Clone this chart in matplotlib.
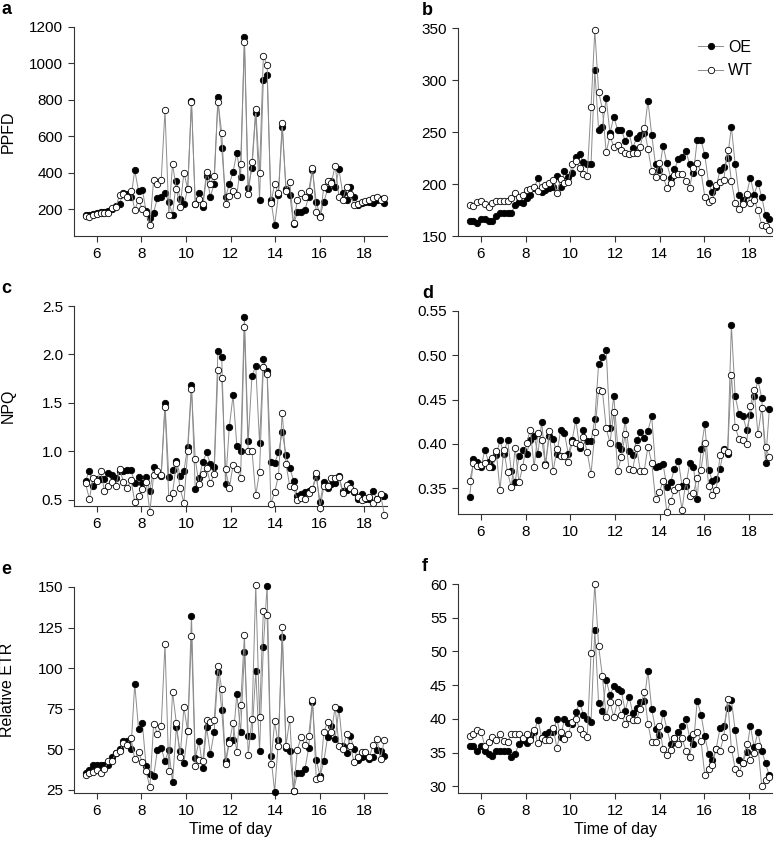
import numpy as np
from matplotlib import pyplot as plt

plt.rcParams['font.family'] = ['Liberation Sans', 'DejaVu Sans']
plt.rcParams['font.size'] = 11

# sampling times (h): 80 readings through the day
time = np.linspace(5.5, 18.9, 80)

# a - PPFD
a_oe = [165, 165, 175, 180, 182, 185, 188, 200, 215, 230, 290, 285, 264, 414, 298, 307, 190, 153, 180, 263,
        266, 286, 240, 168, 354, 255, 226, 310, 792, 227, 290, 213, 383, 268, 339, 814, 535, 264, 335, 405,
        509, 377, 1145, 317, 427, 728, 249, 908, 937, 249, 112, 277, 650, 310, 277, 116, 182, 182, 195, 268,
        414, 240, 162, 237, 310, 354, 323, 418, 286, 249, 323, 268, 224, 231, 237, 240, 231, 249, 255, 231]
a_wt = [160, 158, 170, 175, 178, 180, 180, 205, 212, 277, 280, 268, 300, 195, 250, 200, 177, 113, 362, 337,
        362, 743, 170, 446, 310, 213, 400, 310, 790, 230, 253, 227, 405, 339, 383, 790, 619, 227, 273, 300,
        277, 445, 1116, 280, 456, 747, 399, 1039, 993, 231, 339, 286, 674, 300, 350, 121, 249, 290, 268, 299,
        427, 182, 154, 323, 354, 345, 438, 268, 249, 323, 280, 224, 227, 237, 244, 249, 260, 264, 249, 258]

# b - PPFD
b_oe = [164.5, 164.5, 162.5, 166.7, 166.7, 164.5, 164.5, 169.3, 172.5, 172.5, 172.5, 172.5, 179.6, 182.8, 182, 187,
        189.9, 195.7, 206, 192.4, 194.7, 195.7, 197.3, 207.6, 197.3, 212.4, 207, 210.8, 226.2, 228.8, 220.7, 218.8,
        218.8, 309.2, 252, 255.1, 282.5, 248.7, 264.8, 252, 252, 241.6, 248.7, 234.9, 243.9, 247.1, 248.7, 280.2,
        247.1, 218.8, 213.3, 236.8, 219.8, 206, 214, 223.6, 226.2, 232, 218.8, 210.8, 242.3, 242.3, 227.7, 200.5,
        192.4, 197.3, 213.3, 215.9, 225.2, 255.1, 218.8, 189.9, 184.4, 189.9, 206, 189.9, 201.1, 187.6, 169.9, 166.7]
b_wt = [180.2, 178.6, 182.8, 184, 180.5, 178, 182, 184, 184, 184, 184, 186.7, 191.8, 187.6, 189.2, 194,
        195, 197.3, 193.4, 197.3, 199, 200.5, 203.7, 191, 204.7, 201, 202, 218.8, 222, 215, 209.5, 208,
        273.8, 347.7, 288.9, 271.9, 230.7, 246.1, 235.9, 237.5, 232.6, 229.4, 228.5, 229.4, 229.4, 235.9, 254.2, 233.9,
        212.7, 206.9, 220.4, 206.9, 196.3, 201.1, 208.5, 209.5, 209.5, 202.7, 196.6, 215, 219.8, 211.7, 187.6, 182.8,
        184.4, 198.9, 202.1, 204.3, 232.6, 203, 181.8, 176.4, 180.5, 190.8, 182, 184.4, 175.4, 160.9, 159.3, 155.5]

# c - NPQ
c_oe = [0.70, 0.80, 0.64, 0.72, 0.72, 0.72, 0.78, 0.76, 0.73, 0.80, 0.80, 0.81, 0.81, 0.68, 0.74, 0.68,
        0.74, 0.59, 0.84, 0.78, 0.75, 1.50, 0.74, 0.81, 0.90, 0.75, 0.80, 1.05, 1.69, 0.61, 0.73, 0.89,
        0.99, 0.87, 0.84, 2.04, 1.97, 0.66, 1.25, 1.58, 1.06, 1.00, 2.39, 1.11, 1.78, 1.88, 1.09, 1.95,
        1.83, 0.89, 0.88, 0.99, 1.20, 0.96, 0.83, 0.70, 0.54, 0.56, 0.58, 0.59, 0.61, 0.74, 0.48, 0.69,
        0.62, 0.66, 0.68, 0.75, 0.59, 0.60, 0.68, 0.58, 0.51, 0.56, 0.51, 0.51, 0.59, 0.51, 0.54, 0.54]
c_wt = [0.67, 0.51, 0.73, 0.70, 0.80, 0.59, 0.64, 0.69, 0.64, 0.82, 0.69, 0.62, 0.71, 0.48, 0.54, 0.61,
        0.69, 0.38, 0.76, 0.80, 0.76, 1.46, 0.52, 0.57, 0.88, 0.62, 0.47, 1.00, 1.64, 0.92, 0.66, 0.77,
        0.83, 0.67, 0.77, 1.84, 1.76, 0.82, 0.62, 0.86, 0.82, 0.73, 2.28, 1.00, 1.01, 0.55, 0.79, 1.87,
        1.80, 0.46, 0.58, 0.75, 1.40, 0.87, 0.64, 0.63, 0.50, 0.52, 0.51, 0.57, 0.61, 0.78, 0.42, 0.64,
        0.64, 0.73, 0.73, 0.74, 0.57, 0.65, 0.62, 0.59, 0.53, 0.50, 0.52, 0.53, 0.47, 0.51, 0.56, 0.35]

# d - NPQ
d_oe = [0.340, 0.383, 0.380, 0.374, 0.393, 0.380, 0.374, 0.387, 0.404, 0.389, 0.405, 0.369, 0.357, 0.386, 0.393, 0.389,
        0.404, 0.409, 0.389, 0.425, 0.377, 0.409, 0.406, 0.389, 0.416, 0.412, 0.389, 0.404, 0.427, 0.396, 0.416, 0.403,
        0.403, 0.428, 0.490, 0.498, 0.506, 0.418, 0.454, 0.399, 0.394, 0.427, 0.392, 0.388, 0.404, 0.413, 0.407, 0.415,
        0.431, 0.374, 0.375, 0.377, 0.351, 0.357, 0.372, 0.381, 0.353, 0.353, 0.378, 0.374, 0.338, 0.394, 0.422, 0.371,
        0.358, 0.360, 0.372, 0.394, 0.389, 0.534, 0.454, 0.434, 0.432, 0.416, 0.433, 0.454, 0.472, 0.452, 0.379, 0.439]
d_wt = [0.358, 0.378, 0.375, 0.376, 0.378, 0.374, 0.384, 0.392, 0.348, 0.393, 0.368, 0.351, 0.396, 0.357, 0.374, 0.401,
        0.416, 0.374, 0.412, 0.405, 0.376, 0.415, 0.369, 0.394, 0.386, 0.386, 0.380, 0.402, 0.401, 0.399, 0.408, 0.391,
        0.366, 0.413, 0.461, 0.460, 0.418, 0.401, 0.436, 0.370, 0.385, 0.411, 0.372, 0.371, 0.396, 0.370, 0.369, 0.397,
        0.379, 0.338, 0.346, 0.358, 0.323, 0.336, 0.348, 0.352, 0.326, 0.358, 0.341, 0.345, 0.362, 0.371, 0.401, 0.353,
        0.342, 0.348, 0.387, 0.393, 0.391, 0.478, 0.419, 0.406, 0.404, 0.400, 0.443, 0.461, 0.411, 0.441, 0.397, 0.385]

# e - relative ETR
e_oe = [35.5, 36.9, 40.4, 40.4, 40.4, 40.4, 40.4, 45, 47.6, 50.1, 54.8, 54.8, 50.3, 90.2, 62.4, 66.1,
        39.4, 34.7, 33.2, 49.7, 50.7, 42.5, 49.7, 29.5, 63.4, 48.6, 41.4, 61, 132.3, 44.5, 54.8, 38.4,
        63.4, 47, 60.4, 97.4, 73.9, 42.5, 55.4, 55.8, 84.2, 60.4, 109.7, 58.3, 58.3, 98, 49.1, 112.8,
        150.8, 45.6, 23.6, 55.8, 119.2, 50.7, 48.6, 24, 35.3, 35.3, 37.7, 50.7, 78.9, 43.5, 33.2, 42.5,
        57.3, 64, 56.3, 75, 51.7, 47.6, 57.9, 50.3, 43.5, 45, 46, 43.9, 45, 49.7, 48.6, 46]
e_wt = [34.3, 35.3, 35.9, 36.9, 35.3, 37.7, 42.5, 42.5, 47.6, 48.6, 53.8, 52.8, 56.9, 43.9, 48, 41.9,
        36.3, 26.4, 65.7, 59.5, 64, 115, 36.3, 85.2, 66.1, 45.1, 75.8, 61, 119.6, 39.8, 43.5, 42.5,
        67.8, 66.5, 67.8, 101.5, 87.1, 40.8, 53.8, 66.1, 48, 77.4, 120.2, 46.2, 68.6, 151, 69.6, 135,
        132.5, 41, 67.1, 52.1, 125.3, 52.1, 68.6, 24, 49.7, 57.3, 52.8, 58.3, 80.5, 31.6, 32.2, 60.6,
        66.5, 60.4, 76, 52.1, 50.1, 59.3, 52.1, 41.9, 45, 48, 48, 45, 52.3, 56.5, 44.1, 55.4]

# f - relative ETR
f_oe = [36.0, 35.9, 35.3, 35.9, 35.2, 34.8, 34.5, 35.3, 35.2, 35.2, 35.2, 34.4, 34.8, 36.3, 36.9, 36.4,
        37.3, 38.0, 39.9, 37.2, 37.7, 38.0, 38.0, 40.0, 37.3, 40.0, 39.4, 39.3, 41.0, 42.4, 40.6, 40.0,
        39.5, 53.2, 42.3, 41.2, 45.7, 43.6, 44.8, 44.4, 44.1, 41.2, 43.3, 40.9, 41.6, 42.5, 42.6, 47.1,
        41.4, 38.5, 37.6, 40.9, 38.5, 36.3, 37.1, 38.1, 38.9, 40.0, 37.2, 36.3, 42.7, 40.6, 37.4, 34.8,
        33.9, 35.6, 38.6, 38.9, 41.6, 42.8, 38.3, 33.9, 33.5, 35.1, 39.0, 35.8, 38.0, 35.3, 33.4, 31.6]
f_wt = [37.4, 37.8, 38.4, 38.1, 36.0, 36.6, 37.3, 36.8, 37.7, 36.7, 36.6, 37.7, 37.7, 37.7, 37.2, 37.7,
        36.8, 38.4, 36.4, 37.2, 36.9, 36.9, 38.7, 35.7, 38.1, 37.0, 37.7, 39.6, 40.0, 38.5, 37.8, 37.3,
        49.8, 60.0, 50.8, 46.3, 40.3, 42.5, 40.3, 42.5, 40.6, 39.3, 40.1, 39.9, 39.9, 41.5, 44.0, 39.3,
        36.5, 36.6, 39.0, 35.5, 34.7, 35.4, 37.2, 36.2, 37.1, 35.3, 34.4, 37.8, 38.1, 36.7, 31.6, 32.6,
        33.2, 35.6, 35.3, 37.3, 42.9, 35.6, 32.6, 32.0, 33.5, 36.2, 33.9, 34.9, 35.9, 30.0, 31.0, 31.4]

W, H = 774.0, 843.0

def box(l, t, r, b):
    # pixel box -> figure fraction
    return [l / W, 1 - b / H, (r - l) / W, (b - t) / H]

panels = [
    ('a', box(74, 27, 387, 236), a_oe, a_wt, (52, 1200), [200, 400, 600, 800, 1000, 1200], '{:.0f}', 'PPFD'),
    ('b', box(458, 28, 772, 236), b_oe, b_wt, (150, 350), [150, 200, 250, 300, 350], '{:.0f}', None),
    ('c', box(74, 306, 387, 506), c_oe, c_wt, (0.438, 2.5), [0.5, 1.0, 1.5, 2.0, 2.5], '{:.1f}', 'NPQ'),
    ('d', box(458, 311, 772, 514), d_oe, d_wt, (0.321, 0.55), [0.35, 0.40, 0.45, 0.50, 0.55], '{:.2f}', None),
    ('e', box(74, 587, 387, 793), e_oe, e_wt, (22.9, 150), [25, 50, 75, 100, 125, 150], '{:.0f}', 'Relative ETR'),
    ('f', box(458, 584, 772, 793), f_oe, f_wt, (29.0, 60), [30, 35, 40, 45, 50, 55, 60], '{:.0f}', None),
]

fig = plt.figure(figsize=(7.74, 8.43), dpi=100)

for letter, pos, oe, wt, ylim, yt, fmt, ylab in panels:
    ax = fig.add_axes(pos)
    ax.plot(time, oe, '-o', color='0.55', lw=0.7, ms=4.6, mfc='black', mec='black', mew=0.6,
            label='OE', clip_on=False, zorder=3)
    ax.plot(time, wt, '-o', color='0.55', lw=0.7, ms=4.6, mfc='white', mec='black', mew=0.6,
            label='WT', clip_on=False, zorder=4)
    ax.set_xlim(4.98, 19.02)
    ax.set_ylim(ylim)
    ax.set_xticks([6, 8, 10, 12, 14, 16, 18])
    ax.set_yticks(yt)
    ax.set_yticklabels([fmt.format(v) for v in yt])
    for s in ['top', 'right']:
        ax.spines[s].set_visible(False)
    for s in ['left', 'bottom']:
        ax.spines[s].set_color('#333333')
        ax.spines[s].set_linewidth(0.8)
    ax.tick_params(direction='out', length=4, width=0.8, color='#333333', pad=4, labelsize=11)
    if ylab:
        fig.text(8 / W, pos[1] + pos[3] / 2, ylab, fontsize=11.5, rotation=90, ha='center', va='center')
    if letter in ('e', 'f'):
        ax.set_xlabel('Time of day', fontsize=11.5, labelpad=3)
    if letter == 'b':
        ax.legend(loc='upper left', bbox_to_anchor=(0.745, 0.975), frameon=False, handlelength=1.55,
                  handletextpad=0.3, labelspacing=0.55, fontsize=11.5, borderaxespad=0)
    lx = 0.0 if pos[0] < 0.5 else 421 / W
    fig.text(lx + 1 / W, pos[1] + pos[3] + 26 / H, letter, fontsize=13, fontweight='bold',
             ha='left', va='top')

fig.savefig('out.png', dpi=100)
